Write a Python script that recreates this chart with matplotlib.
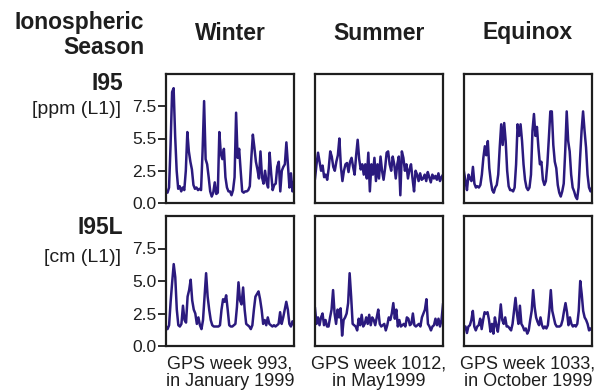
import matplotlib.pyplot as plt
import numpy as np

plt.rcParams["font.family"] = ["Liberation Sans", "DejaVu Sans"]

seasons = ["Winter", "Summer", "Equinox"]
weeks = ["GPS week 993,\nin January 1999",
         "GPS week 1012,\nin May1999",
         "GPS week 1033,\nin October 1999"]
row_names = ["I95", "I95L"]
row_units = ["[ppm (L1)]", "[cm (L1)]"]
yticks = [0, 2.5, 5, 7.5]
ytick_labels = [["0.0", "2.5", "5.5", "7.5"], ["0.0", "2.5", "5.0", "7.5"]]

# values, roughly every 2 hours over one GPS week
winter_i95 = [0.9, 0.8, 1.2, 4.5, 8.6, 8.9, 5.2, 2.5, 1.1, 1.3, 0.9, 1.2,
              1.0, 2.5, 5.5, 4.0, 3.2, 2.6, 1.4, 1.1, 1.2, 1.0, 1.1, 1.0,
              4.0, 7.9, 3.4, 3.0, 2.0, 0.9, 0.5, 0.8, 1.6, 0.7, 0.8, 5.5,
              3.8, 3.4, 4.2, 2.0, 1.2, 0.9, 0.9, 0.6, 1.0, 2.0, 7.0, 3.5,
              4.2, 2.5, 0.9, 0.8, 0.9, 0.9, 1.0, 1.3, 3.5, 5.3, 4.3, 3.2,
              2.6, 1.9, 4.0, 2.0, 1.5, 2.5, 1.6, 1.2, 3.9, 2.3, 1.0, 1.4,
              1.5, 2.8, 3.2, 0.9, 2.5, 2.8, 3.0, 4.7, 3.0, 1.2, 2.3, 0.9, 1.6]
summer_i95 = [1.9, 3.0, 3.9, 3.2, 2.5, 2.9, 2.0, 2.2, 1.8, 2.7, 4.0, 3.6,
              2.8, 2.5, 3.2, 3.7, 5.0, 2.8, 1.7, 2.5, 3.0, 3.1, 2.4, 3.2,
              3.5, 2.8, 2.2, 3.7, 4.9, 3.4, 2.6, 3.0, 2.2, 3.0, 1.9, 3.9,
              0.9, 3.0, 2.2, 3.5, 1.7, 3.0, 1.9, 3.6, 2.5, 1.8, 2.7, 3.9,
              4.0, 3.0, 2.5, 3.6, 3.0, 1.9, 3.0, 3.6, 0.6, 4.0, 3.5, 2.5,
              3.0, 1.9, 2.6, 3.0, 1.9, 0.9, 2.5, 2.2, 1.7, 2.3, 1.8, 1.9,
              2.2, 1.7, 2.4, 2.0, 1.6, 2.2, 1.9, 2.1, 1.8, 2.3, 1.7, 2.0, 2.2]
equinox_i95 = [2.4, 1.7, 1.0, 2.2, 1.9, 1.7, 2.8, 1.5, 1.2, 1.3, 1.2, 1.4,
               2.2, 3.5, 4.4, 3.7, 4.8, 2.7, 1.7, 1.0, 0.8, 1.2, 1.4, 2.2,
               4.3, 6.1, 4.5, 6.2, 4.8, 2.5, 1.3, 1.0, 1.0, 0.9, 1.2, 3.0,
               6.1, 5.2, 6.1, 4.8, 3.0, 1.8, 1.2, 1.0, 1.2, 2.2, 5.6, 6.9,
               5.2, 5.9, 4.3, 3.0, 3.2, 1.8, 1.4, 1.7, 3.0, 5.0, 7.1, 7.1,
               4.5, 3.2, 2.7, 1.4, 0.8, 0.5, 0.9, 1.5, 4.0, 7.1, 4.8, 4.0,
               2.2, 1.2, 0.9, 0.5, 0.3, 1.2, 3.5, 5.6, 7.1, 5.6, 4.3, 2.2,
               1.2, 0.9, 1.2]
winter_i95l = [1.5, 1.3, 1.6, 3.4, 4.9, 6.3, 5.3, 2.8, 1.6, 1.5, 1.7, 3.1,
               2.0, 1.8, 3.8, 4.3, 5.1, 3.5, 2.8, 2.5, 1.7, 2.2, 1.6, 1.3,
               2.0, 3.8, 5.6, 3.8, 2.8, 2.0, 1.6, 1.5, 1.5, 1.5, 1.5, 1.6,
               2.8, 3.6, 3.4, 3.9, 2.8, 1.6, 1.5, 1.5, 1.6, 1.7, 3.0, 4.9,
               3.5, 3.2, 4.5, 2.8, 1.7, 1.6, 1.5, 1.3, 1.6, 2.8, 3.8, 4.0,
               4.2, 3.6, 2.8, 1.7, 2.0, 1.6, 2.2, 1.7, 1.6, 1.5, 1.6, 1.5,
               1.6, 1.7, 2.6, 1.7, 2.2, 2.8, 3.4, 2.8, 1.7, 1.5, 1.9, 1.6]
summer_i95l = [2.9, 1.7, 2.2, 1.6, 2.2, 2.5, 1.6, 2.0, 1.5, 1.5, 2.2, 2.8,
               4.3, 2.5, 1.7, 2.8, 2.2, 2.9, 0.8, 2.0, 2.2, 2.5, 3.3, 5.6,
               3.8, 1.7, 1.6, 1.5, 1.2, 2.1, 1.6, 2.4, 1.5, 1.7, 2.2, 1.7,
               2.4, 1.6, 2.2, 2.0, 1.6, 2.2, 2.8, 1.7, 1.5, 1.6, 1.7, 1.2,
               1.6, 2.2, 2.0, 2.5, 3.3, 2.1, 2.8, 1.5, 2.0, 1.5, 1.6, 1.7,
               1.5, 2.2, 2.1, 1.6, 1.7, 2.5, 1.6, 1.5, 1.6, 1.7, 1.5, 2.2,
               2.5, 2.8, 3.6, 1.7, 1.5, 1.2, 1.5, 1.6, 2.1, 1.6, 2.1, 1.5,
               2.0, 3.2]
equinox_i95l = [1.5, 1.5, 1.0, 1.5, 1.6, 2.0, 2.7, 1.5, 1.2, 1.5, 1.6, 2.1,
                1.3, 2.0, 2.6, 2.5, 2.6, 2.0, 1.1, 1.7, 0.95, 2.2, 1.6, 1.1,
                2.0, 3.2, 2.0, 1.7, 2.2, 1.5, 1.5, 1.35, 1.2, 1.7, 2.7, 3.7,
                2.5, 1.7, 3.1, 1.7, 1.5, 1.2, 1.35, 0.95, 1.2, 2.0, 2.7, 4.3,
                3.0, 2.2, 1.85, 1.6, 2.2, 1.6, 1.35, 1.5, 1.35, 1.6, 2.7, 4.3,
                2.7, 2.2, 1.7, 1.5, 1.5, 1.5, 1.6, 2.0, 2.7, 3.3, 2.6, 1.6,
                2.2, 1.7, 1.5, 1.6, 1.5, 1.7, 2.7, 5.0, 4.0, 2.7, 2.2, 2.0,
                1.7, 1.2, 1.35, 1.2]

data = [[winter_i95, summer_i95, equinox_i95],
        [winter_i95l, summer_i95l, equinox_i95l]]

W, H = 599, 392
fig = plt.figure(figsize=(W / 100, H / 100), dpi=100)

col_x = [166, 315, 464]
row_y = [(74, 203), (216, 346)]
line_color = "#2b1a7e"
ink = "#1e1e1e"

for r in range(2):
    top, bot = row_y[r]
    for c in range(3):
        ax = fig.add_axes([col_x[c] / W, (H - bot) / H, 128 / W, (bot - top) / H])
        vals = data[r][c]
        t = np.linspace(0, 7, len(vals))
        ax.plot(t, vals, color=line_color, linewidth=1.8)
        ax.set_xlim(0, 7)
        ax.set_ylim(0, 10)
        ax.set_xticks([])
        for s in ax.spines.values():
            s.set_linewidth(1.6)
            s.set_color(ink)
        if c == 0:
            ax.set_yticks(yticks)
            ax.set_yticklabels(ytick_labels[r])
            ax.tick_params(axis="y", direction="out", length=6, width=1.3,
                           labelsize=12.5, pad=1, colors=ink)
        else:
            ax.set_yticks([])

# headers and row labels
fig.text(144 / W, 1 - 22 / H, "Ionospheric", ha="right", va="center",
         fontsize=16.5, fontweight="bold", color=ink)
fig.text(144 / W, 1 - 48 / H, "Season", ha="right", va="center",
         fontsize=16.5, fontweight="bold", color=ink)
for c in range(3):
    cx = (col_x[c] + 64) / W
    fig.text(cx, 1 - 33 / H, seasons[c], ha="center", va="center",
             fontsize=16.5, fontweight="bold", color=ink)
    fig.text(cx, 1 - 373 / H, weeks[c], ha="center", va="center",
             fontsize=13, color=ink, linespacing=1.05)

label_y = [(83, 110), (228, 257)]
for r in range(2):
    fig.text(123 / W, 1 - label_y[r][0] / H, row_names[r], ha="right", va="center",
             fontsize=16.5, fontweight="bold", color=ink)
    fig.text(121 / W, 1 - label_y[r][1] / H, row_units[r], ha="right", va="center",
             fontsize=14, color=ink)

plt.savefig("out.png", dpi=100)
